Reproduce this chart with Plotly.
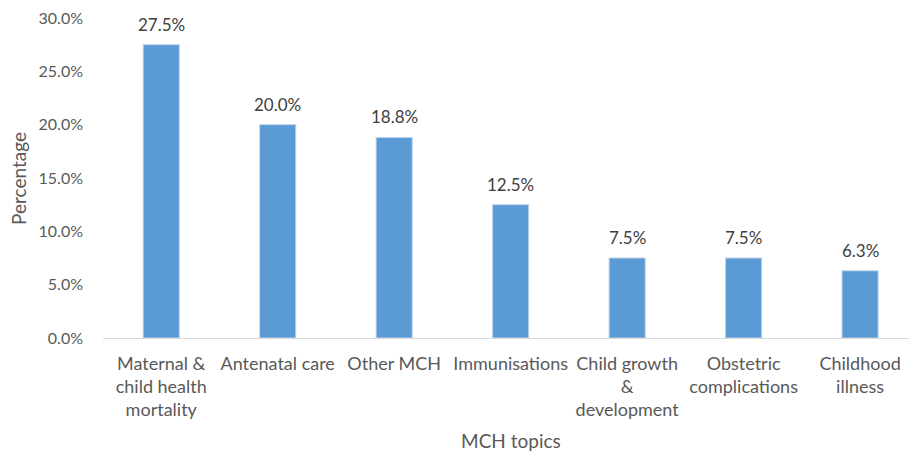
import plotly.graph_objects as go

categories = ["Maternal &<br>child health<br>mortality", "Antenatal care", "Other MCH",
              "Immunisations", "Child growth<br>&<br>development", "Obstetric<br>complications",
              "Childhood<br>illness"]
values = [27.5, 20.0, 18.8, 12.5, 7.5, 7.5, 6.3]
ytick_vals = [0, 5, 10, 15, 20, 25, 30]
ytick_text = ["0.0%", "5.0%", "10.0%", "15.0%", "20.0%", "25.0%", "30.0%"]

FONT = "Lato, Open Sans, sans-serif"
GREY = "#595959"

xs = list(range(len(categories)))
fig = go.Figure(go.Bar(
    x=xs, y=values,
    marker=dict(color="#5b9bd5", line=dict(color="#bcd3ec", width=1)),
    width=0.31,
    cliponaxis=False,
    hoverinfo="skip",
))

for x, v in zip(xs, values):
    fig.add_annotation(x=x, y=v, text=f"{v:.1f}%", showarrow=False,
                       yanchor="bottom", yshift=8,
                       font=dict(family=FONT, size=17, color="#404040"))

# axis titles as annotations (positioned relative to the plot area)
fig.add_annotation(xref="paper", yref="paper", x=-0.1055, y=0.5, text="Percentage",
                   textangle=-90, showarrow=False, xanchor="center", yanchor="middle",
                   font=dict(family=FONT, size=19, color=GREY))
fig.add_annotation(xref="paper", yref="paper", x=0.506, y=-0.319, text="MCH topics",
                   showarrow=False, xanchor="center", yanchor="middle",
                   font=dict(family=FONT, size=19, color=GREY))

fig.update_layout(
    width=909, height=451,
    margin=dict(l=103, r=0, t=18, b=113),
    plot_bgcolor="white", paper_bgcolor="white",
    showlegend=False,
    font=dict(family=FONT, size=18, color=GREY),
    xaxis=dict(
        tickmode="array", tickvals=xs, ticktext=categories,
        range=[-0.5, 6.42], showline=True, linecolor="#d9d9d9", linewidth=1,
        ticks="outside", ticklen=9, tickcolor="rgba(0,0,0,0)",
        showgrid=False, zeroline=False, tickangle=0, automargin=False,
        tickfont=dict(family=FONT, size=18, color=GREY),
    ),
    yaxis=dict(
        range=[0, 30], tickmode="array", tickvals=ytick_vals, ticktext=ytick_text,
        showgrid=False, zeroline=False, showline=False, automargin=False,
        ticks="", ticklabelstandoff=19,
        tickfont=dict(family=FONT, size=16, color=GREY),
    ),
)

fig.write_html("out.html", config={"displayModeBar": False},
               post_script="document.body.style.margin='0';")
